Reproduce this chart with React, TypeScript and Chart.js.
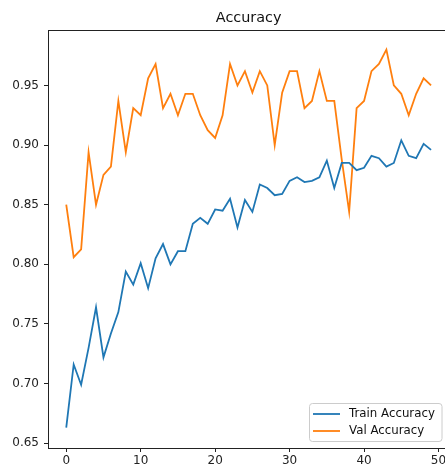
import React, { useEffect, useRef } from "react";
import { Chart, registerables } from "chart.js";

Chart.register(...registerables);

const epochs = [
  0, 1, 2, 3, 4, 5, 6, 7, 8, 9, 10, 11, 12, 13, 14, 15, 16, 17, 18, 19, 20, 21, 22, 23, 24,
  25, 26, 27, 28, 29, 30, 31, 32, 33, 34, 35, 36, 37, 38, 39, 40, 41, 42, 43, 44, 45, 46, 47, 48, 49,
];
const trainAcc = [
  0.663, 0.716, 0.699, 0.73, 0.764, 0.722, 0.742, 0.76, 0.794, 0.783, 0.801, 0.78, 0.805, 0.817, 0.8,
  0.811, 0.811, 0.834, 0.839, 0.834, 0.846, 0.845, 0.855, 0.831, 0.854, 0.844, 0.867, 0.864, 0.858,
  0.859, 0.87, 0.873, 0.869, 0.87, 0.873, 0.887, 0.864, 0.885, 0.885, 0.879, 0.881, 0.891, 0.889,
  0.882, 0.885, 0.904, 0.891, 0.889, 0.901, 0.896,
];
const valAcc = [
  0.85, 0.806, 0.8125, 0.894, 0.85, 0.875, 0.882, 0.937, 0.894, 0.931, 0.925, 0.956, 0.968, 0.931,
  0.943, 0.925, 0.943, 0.943, 0.925, 0.9125, 0.906, 0.925, 0.968, 0.95, 0.962, 0.944, 0.962, 0.95,
  0.9, 0.944, 0.962, 0.962, 0.931, 0.937, 0.962, 0.937, 0.937, 0.888, 0.844, 0.931, 0.937, 0.962,
  0.968, 0.98, 0.95, 0.943, 0.925, 0.943, 0.956, 0.95,
];
const xTicks = [0, 10, 20, 30, 40, 50];
const yTicks = [0.65, 0.7, 0.75, 0.8, 0.85, 0.9, 0.95];
const title = "Accuracy";
const seriesLabels = ["Train Accuracy", "Val Accuracy"];
const seriesColors = ["#1f77b4", "#ff7f0e"];

const FONT = "DejaVu Sans";

const framePlugin = {
  id: "frame",
  afterDraw(chart: any) {
    const { ctx, chartArea } = chart;
    const { left, right, top, bottom } = chartArea;
    ctx.save();
    // spines
    ctx.strokeStyle = "#222";
    ctx.lineWidth = 1;
    ctx.beginPath();
    ctx.moveTo(left, top + 0.5);
    ctx.lineTo(right, top + 0.5);
    ctx.stroke();
    // title
    ctx.fillStyle = "#111";
    ctx.font = `14.4px "${FONT}"`;
    ctx.textAlign = "center";
    ctx.textBaseline = "middle";
    ctx.fillText(title, (left + right) / 2, 18.5);
    // legend
    const bx = 309.5, by = 403.5, bw = 132.5, bh = 38;
    const r = 3;
    ctx.beginPath();
    ctx.moveTo(bx + r, by);
    ctx.lineTo(bx + bw - r, by);
    ctx.quadraticCurveTo(bx + bw, by, bx + bw, by + r);
    ctx.lineTo(bx + bw, by + bh - r);
    ctx.quadraticCurveTo(bx + bw, by + bh, bx + bw - r, by + bh);
    ctx.lineTo(bx + r, by + bh);
    ctx.quadraticCurveTo(bx, by + bh, bx, by + bh - r);
    ctx.lineTo(bx, by + r);
    ctx.quadraticCurveTo(bx, by, bx + r, by);
    ctx.closePath();
    ctx.fillStyle = "rgba(255,255,255,0.8)";
    ctx.fill();
    ctx.strokeStyle = "#cccccc";
    ctx.lineWidth = 1;
    ctx.stroke();
    ctx.font = `11.8px "${FONT}"`;
    ctx.textAlign = "left";
    ctx.textBaseline = "middle";
    const rows = [414, 431];
    chart.data.datasets.forEach((ds: any, i: number) => {
      ctx.strokeStyle = ds.borderColor;
      ctx.lineWidth = 1.8;
      ctx.beginPath();
      ctx.moveTo(313, rows[i]);
      ctx.lineTo(340, rows[i]);
      ctx.stroke();
      ctx.fillStyle = "#111";
      ctx.fillText(ds.label, 349, rows[i]);
    });
    ctx.restore();
  },
};

export default function App() {
  const ref = useRef<HTMLCanvasElement>(null);
  useEffect(() => {
    if (!ref.current) return;
    const chart = new Chart(ref.current, {
      type: "line",
      data: {
        datasets: [trainAcc, valAcc].map((vals, i) => ({
          label: seriesLabels[i],
          data: epochs.map((e, j) => ({ x: e, y: vals[j] })),
          borderColor: seriesColors[i],
          backgroundColor: seriesColors[i],
          borderWidth: 1.8,
          pointRadius: 0,
          tension: 0,
          fill: false,
        })),
      },
      options: {
        animation: false,
        responsive: false,
        devicePixelRatio: 1,
        layout: { padding: { top: 30, left: 0, right: 10.7, bottom: 0 } },
        plugins: {
          legend: { display: false },
          title: { display: false },
          tooltip: { enabled: false },
        },
        scales: {
          x: {
            type: "linear",
            min: -2.45,
            max: 51.45,
            afterBuildTicks: (s: any) => {
              s.ticks = xTicks.map((v) => ({ value: v }));
            },
            afterFit: (s: any) => {
              s.height = 20;
            },
            grid: {
              display: true,
              drawOnChartArea: false,
              drawTicks: true,
              tickLength: 4,
              color: "#222",
            },
            border: { display: true, color: "#222", width: 1 },
            ticks: {
              color: "#222",
              font: { family: FONT, size: 12 },
              padding: 2,
              maxRotation: 0,
              autoSkip: false,
            },
          },
          y: {
            type: "linear",
            min: 0.646,
            max: 0.9965,
            afterBuildTicks: (s: any) => {
              s.ticks = yTicks.map((v) => ({ value: v }));
            },
            afterFit: (s: any) => {
              s.width = 48;
            },
            grid: {
              display: true,
              drawOnChartArea: false,
              drawTicks: true,
              tickLength: 4,
              color: "#222",
            },
            border: { display: true, color: "#222", width: 1 },
            ticks: {
              color: "#222",
              font: { family: FONT, size: 12 },
              padding: 5,
              autoSkip: false,
              callback: (v: any) => Number(v).toFixed(2),
            },
          },
        },
      },
      plugins: [framePlugin],
    });
    return () => chart.destroy();
  }, []);
  return (
    <div
      style={{
        position: "fixed",
        left: 0,
        top: 0,
        width: 445,
        height: 468,
        overflow: "hidden",
        background: "#fff",
      }}
    >
      <canvas ref={ref} width={460} height={468} style={{ display: "block" }} />
    </div>
  );
}
